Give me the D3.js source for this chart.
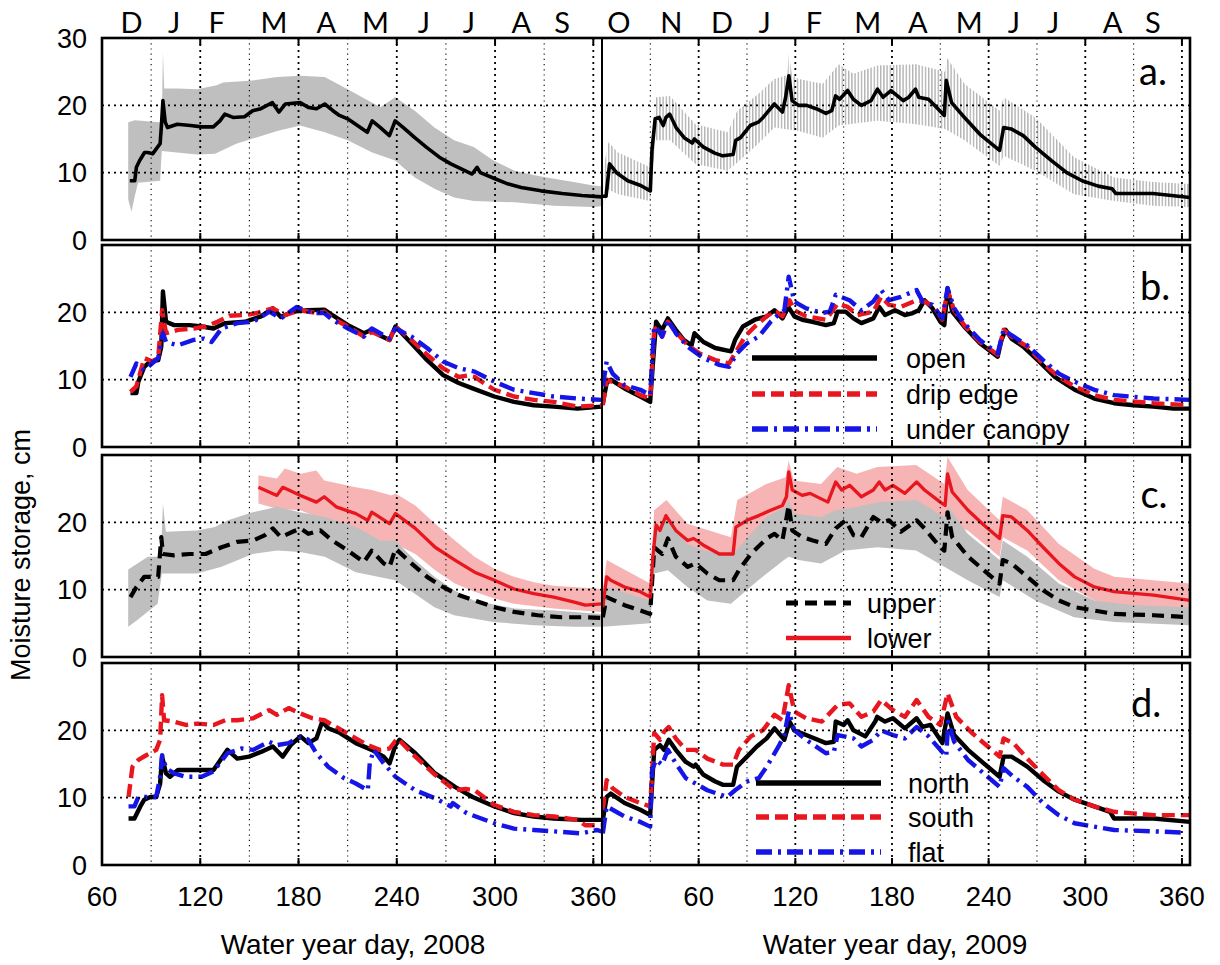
<!DOCTYPE html>
<html><head><meta charset="utf-8">
<script src="https://cdn.jsdelivr.net/npm/d3@7/dist/d3.min.js"></script>
<style>body{margin:0;background:#fff}svg{display:block}</style>
</head><body><svg id="c" width="1220" height="965"></svg>
<script>
// ---------- DATA (water year day, moisture storage cm) ----------
const monthsL = ["D","J","F","M","A","M","J","J","A","S"];
const monthsLDay = [78,104,130,165,197,227,256.6,284,316,341];
const monthsR = ["O","N","D","J","F","M","A","M","J","J","A","S"];
const monthsRDay = [10.5,43,74.5,101,131.6,165,196,228,255.6,280,317,342];
const ticksL = [60,120,180,240,300,360];
const ticksR = [60,120,180,240,300,360];
const panelLabels = ["a.","b.","c.","d."];

// panel a
const a08_open = [[77,8.8],[80,8.8],[81,10.8],[83,11.8],[86,13.0],[88,13.0],[91,12.8],[93,13.5],[95.5,14.3],[96.2,16.7],[97.2,20.7],[98.6,17.5],[100,16.7],[106,17.2],[114,17.0],[121,16.8],[128,16.8],[132,17.7],[135,18.7],[140,18.2],[147,18.3],[152,19.2],[157,19.5],[164,20.4],[168,19.0],[172,20.2],[181,20.4],[186,19.7],[191,19.5],[196,20.2],[201,19.2],[205,18.5],[210,18.0],[216,17.0],[222,16.0],[225,17.7],[230,16.7],[235.5,15.5],[239,17.7],[244,16.7],[251,15.2],[258,13.8],[266,12.3],[273,11.3],[280,10.5],[286,9.8],[289,10.8],[291,10.0],[300,9.1],[307,8.4],[316,7.8],[328,7.3],[341,6.9],[353,6.6],[365,6.4]];
const a08_hi = [[76,17.5],[80,17.8],[95,17.5],[96.5,17.5],[97.2,27.9],[98,22.5],[106,22.5],[118,22.4],[130,23.0],[134,23.4],[152,23.7],[167,24.2],[181,24.4],[196,24.2],[210,22.4],[230,19.7],[239,21.2],[251,19.2],[263,16.7],[275,14.8],[287,13.8],[299,11.8],[312,10.3],[324,9.6],[336,9.1],[348,8.6],[360,8.1],[365,8.0]];
const a08_lo = [[76,6.0],[78,4.2],[80,6.5],[82,8.5],[95.5,8.8],[96.5,13.2],[118,12.7],[129,12.8],[142,14.3],[167,16.2],[181,17.0],[196,16.0],[210,14.8],[225,13.0],[239,11.8],[251,9.3],[263,7.6],[275,6.3],[287,5.8],[312,5.6],[336,5.1],[360,4.9],[365,5.0]];
const a09_open = [[0,6.5],[2.5,6.5],[4.7,11.3],[9,10.0],[16,8.8],[24,8.1],[30,7.3],[31,13.3],[33,18.0],[35.5,18.2],[38,17.0],[39.7,18.2],[42,18.7],[46,16.7],[51,15.2],[56,14.4],[57.4,15.0],[63,13.8],[70,12.9],[75,12.5],[81.4,12.7],[83,14.8],[86,15.2],[92,17.0],[97,17.5],[100,18.2],[107,20.2],[112,19.0],[114,21.2],[116,24.4],[118,20.7],[122,20.0],[127,20.0],[133,19.5],[139,18.8],[142.6,19.2],[145,21.4],[147.5,20.9],[152.5,22.2],[156,20.9],[161,20.0],[167,20.7],[171,22.4],[174.5,21.2],[179.4,22.2],[187,20.7],[190.4,21.2],[194.6,22.4],[196.6,21.2],[202.7,20.9],[207.6,19.7],[212.5,18.5],[213.7,23.7],[217,20.4],[225,18.2],[234.6,15.7],[246.8,13.3],[249.3,16.7],[254,16.5],[261.5,15.5],[269,13.8],[279,11.8],[288.5,10.0],[298,8.8],[308,8.0],[316.7,7.6],[319,6.9],[342,6.9],[365,6.3]];
const a09_hi = [[0,9.5],[4,14.5],[10,13.0],[29.9,10.8],[31,14],[33.6,21.2],[42.2,21.4],[58,17.2],[78,16.0],[84,19.2],[97,21.7],[107,23.9],[115,24.5],[116,27.6],[118,24.5],[122,23.9],[137,23.2],[147,26.1],[156,24.7],[171,25.9],[195,26.1],[213,25.0],[214,27.1],[225,23.2],[246.8,19.2],[249.3,21.2],[269,18.2],[293,12.3],[318,9.3],[342,8.6],[365,8.3]];
const a09_lo = [[0,4.5],[4,7.5],[10,6.8],[29.9,5.8],[31,10],[33.6,14.8],[42.2,14.8],[58,11.3],[78,10.3],[84,11.5],[97,14.3],[107,16.7],[122,16.2],[137,15.2],[147,17.0],[171,17.7],[195,17.2],[213,16.5],[225,14.8],[246.8,11.0],[249.3,12.5],[269,10.3],[293,6.8],[318,5.8],[342,5.1],[365,4.9]];

// panel b
const b08_open = [[77.4,8.0],[81,8.0],[82.2,9.7],[85.8,11.9],[89.5,12.7],[94.3,12.9],[96.2,14.9],[97.2,23.1],[99.1,18.6],[104,18.1],[113.6,18.1],[120.9,17.9],[128.1,17.6],[135.3,18.4],[147.4,18.6],[157.1,19.4],[164.3,20.6],[169.2,19.3],[176.4,20.1],[186,20.3],[195.7,20.4],[200.6,19.6],[210.2,18.1],[219.9,16.9],[224.7,17.4],[229.5,16.6],[235.6,15.9],[239.2,17.9],[248.9,15.4],[258.5,12.9],[268.2,10.7],[277.8,9.5],[286.3,8.7],[299.6,7.5],[311.6,6.7],[323.7,6.2],[335.8,6.0],[350.3,5.7],[365,6.0]];
const b08_drip = [[77.4,8.2],[81,9.0],[85.8,13.2],[90.7,12.7],[94.3,13.2],[96.7,20.3],[99.1,16.9],[106.4,17.4],[116,17.6],[123.3,17.9],[130.5,18.6],[137.8,19.5],[147.4,19.6],[154.7,19.9],[164.3,20.6],[171.6,19.6],[181.2,20.3],[190.9,19.9],[195.7,20.1],[200.6,19.1],[210.2,17.9],[219.9,16.4],[224.7,17.1],[235.6,15.9],[239.2,17.9],[248.9,15.9],[258.5,13.7],[268.2,11.7],[277.8,10.4],[283,10.6],[287.5,10.4],[299.6,8.5],[311.6,7.5],[323.7,7.0],[335.8,6.7],[350.3,6.0],[365,6.2]];
const b08_canopy = [[77.4,10.4],[81,12.4],[85.8,11.4],[91.9,12.7],[94.3,13.2],[97.2,16.9],[99.1,15.6],[106.4,15.1],[116,15.9],[122.1,16.1],[126.9,15.6],[133,17.6],[142.6,18.4],[152.3,18.6],[162.2,20.1],[169.2,19.1],[178.8,20.8],[188.5,19.9],[195.7,19.9],[200.6,18.9],[210.2,17.6],[219.9,16.4],[224.7,17.6],[235.6,16.1],[239.2,17.6],[248.9,16.4],[258.5,14.7],[268.2,12.7],[277.8,11.7],[287.5,11.2],[299.6,9.7],[311.6,8.5],[323.7,8.0],[335.8,7.5],[350.3,7.2],[365,7.0]];
const b09_open = [[0.5,6.5],[2.9,9.5],[5.4,10.0],[14,8.7],[23.8,7.5],[29.9,6.7],[31.6,12.4],[33.6,18.6],[35.5,17.9],[37.3,17.4],[40.9,19.1],[45.8,17.4],[50.7,15.9],[55.6,15.1],[57.4,16.9],[63,15.6],[70.3,14.7],[80.1,14.2],[82.6,15.9],[87.5,17.9],[94.9,18.9],[102.2,19.4],[107.1,20.3],[112,19.1],[115.7,20.8],[119.4,19.4],[124.3,18.9],[130.6,18.6],[139,18.1],[143.9,18.4],[146.3,20.1],[151.2,20.1],[156.1,19.1],[161,18.4],[168.4,19.1],[172.1,20.8],[175.7,19.6],[181.9,20.3],[188,19.6],[192.9,19.9],[196.6,20.3],[200.2,21.8],[205.1,20.6],[210,18.6],[212.5,18.1],[214.5,23.6],[217.4,20.1],[224.8,17.9],[234.6,15.4],[245.6,13.4],[248,15.9],[250.5,17.4],[254.2,16.1],[261.5,14.9],[271.3,12.7],[281.1,10.4],[293.4,8.5],[305.6,7.2],[317.9,6.5],[330.1,6.2],[342.4,6.0],[354.7,5.7],[365,5.7]];
const b09_drip = [[0.5,6.2],[2.9,10.0],[14,9.0],[23.8,7.7],[29.9,7.2],[32.4,17.4],[34.8,17.9],[37.3,16.4],[40.9,18.6],[45.8,17.1],[53.2,15.1],[60.5,13.9],[70.3,12.9],[78.9,12.4],[83.8,14.4],[88.7,16.4],[94.9,17.9],[102.2,19.4],[107.1,20.3],[112,19.4],[116.4,21.8],[119.4,20.3],[126.7,19.4],[139,18.9],[146.3,21.3],[152.5,20.8],[158.6,19.6],[168.4,20.1],[173.3,22.3],[178.2,21.1],[185.5,20.8],[195.3,21.8],[200.2,21.6],[206.4,20.8],[211.3,18.9],[214.5,23.3],[218.6,20.3],[224.8,18.1],[234.6,15.6],[245.6,13.7],[249.3,17.4],[254.2,16.4],[264,14.9],[273.8,12.4],[283.6,10.4],[293.4,9.0],[305.6,7.7],[317.9,7.0],[342.4,6.5],[365,6.2]];
const b09_canopy = [[0.5,9.0],[2.9,12.7],[6.6,10.9],[14,9.2],[23.8,8.5],[29.9,7.7],[32.4,17.9],[34.8,17.4],[37.3,16.4],[40.9,18.9],[45.8,16.9],[53.2,14.9],[63,13.2],[72.8,12.2],[78.9,11.9],[83.8,13.9],[90,15.4],[97.3,16.4],[104.7,18.6],[110.8,19.9],[113.2,20.3],[115.9,25.3],[119.4,21.6],[126.7,20.6],[136.5,19.9],[141.4,20.1],[145.1,22.6],[153.7,21.8],[161,20.3],[168.4,21.6],[173.3,23.3],[178.2,21.8],[185.5,22.3],[195.3,23.3],[199,21.6],[205.1,21.1],[211.3,19.1],[214.5,23.6],[218.6,20.6],[224.8,18.4],[234.6,15.9],[245.6,13.9],[249.3,17.4],[254.2,16.6],[264,15.1],[273.8,12.9],[283.6,10.9],[293.4,9.7],[305.6,8.5],[317.9,7.7],[342.4,7.2],[365,7.0]];

// panel c
const c08_upper = [[77.4,8.9],[81,10.4],[85.8,11.9],[94.3,11.9],[96.2,17.8],[97.2,15.3],[104,15.1],[113.6,15.3],[123.3,15.3],[133,16.3],[142.6,17.1],[152.3,17.3],[159.5,18.1],[164.3,19.1],[169.2,17.8],[176.4,18.6],[181.2,19.1],[186,18.3],[193.3,18.8],[200.6,17.3],[210.2,15.8],[219.9,14.1],[224.7,15.8],[232,13.9],[235.6,13.4],[239.2,16.1],[248.9,13.9],[258.5,11.9],[268.2,10.4],[277.8,9.2],[287.5,8.4],[299.6,7.4],[311.6,6.7],[326.1,6.2],[340.6,5.9],[355.1,5.9],[365,5.8]];
const c08_upper_hi = [[76,13.0],[88,14.9],[96,14.9],[97.2,22.8],[99,18.6],[118,18.8],[129,19.3],[137,20.3],[152,21.5],[167,22.3],[181,21.5],[196,20.8],[215,19.3],[230,17.3],[239,17.3],[251,14.4],[263,11.9],[275,9.9],[287,8.4],[312,7.2],[336,6.9],[365,6.4]];
const c08_upper_lo = [[76,4.5],[81,5.4],[94,7.9],[96.5,12.4],[118,12.4],[133,13.4],[152,15.3],[167,15.8],[181,15.6],[196,14.9],[215,12.6],[239,11.4],[251,9.4],[263,7.4],[275,6.2],[299,5.2],[324,4.7],[348,4.5],[365,4.5]];
const c08_lower = [[155.5,25.2],[162,24.5],[166.8,24.0],[170.4,25.2],[181.2,24.0],[190.9,23.0],[195.7,23.8],[203,22.3],[215,21.3],[222.3,20.3],[224.7,21.5],[235.6,19.8],[239.2,21.3],[251.3,19.1],[263.4,16.3],[275.5,14.4],[287.5,12.6],[299.6,11.4],[311.6,10.1],[323.7,9.4],[335.8,8.9],[347.8,8.2],[355.1,7.7],[365,7.9]];
const c08_lower_hi = [[155.5,27.0],[166.8,26.5],[171.6,28.0],[181.2,27.2],[190.9,27.7],[195.7,26.2],[215,25.2],[224.7,24.8],[236.8,24.0],[239.2,24.3],[251.3,22.5],[263.4,19.8],[275.5,17.3],[287.5,14.9],[299.6,13.1],[311.6,11.9],[323.7,11.1],[335.8,10.6],[347.8,10.4],[365,10.1]];
const c08_lower_lo = [[155.5,22.8],[166.8,22.0],[181.2,21.8],[195.7,20.3],[215,18.8],[229.5,17.3],[239.2,16.8],[251.3,15.3],[263.4,12.9],[275.5,10.9],[287.5,9.7],[299.6,8.7],[311.6,7.9],[335.8,7.2],[365,6.7]];
const c09_upper = [[0.5,5.9],[2.9,8.9],[14,7.7],[23.8,6.9],[29.9,6.4],[32.4,16.3],[34.8,15.8],[37.3,15.3],[40.9,17.6],[45.8,14.9],[53.2,13.4],[58.1,13.9],[65.4,12.4],[72.8,11.4],[81.4,11.4],[85,12.9],[92.4,15.3],[102.2,17.6],[107.1,18.3],[112,17.3],[115.9,22.5],[118.1,18.8],[124.3,17.8],[130.9,17.3],[139,16.8],[145.1,19.1],[151.2,20.3],[156.1,18.1],[161,17.8],[168.4,20.8],[173.3,20.0],[178.2,20.3],[185.5,18.6],[195.3,20.3],[200.2,19.1],[210,16.3],[212.5,15.8],[214.5,21.5],[217.4,17.8],[227.2,14.9],[237,12.9],[246.8,10.9],[248.8,14.4],[254.2,13.9],[264,11.9],[273.8,9.9],[283.6,8.4],[293.4,7.4],[305.6,6.9],[317.9,6.4],[342.4,6.2],[365,5.9]];
const c09_upper_hi = [[0.5,9.4],[2.9,10.4],[29.9,8.4],[32.4,18.8],[40,20.3],[53,16.8],[63,15.8],[81,15.3],[85,16.3],[102,20.8],[114,22.3],[115.9,23.3],[119,21.3],[136,20.8],[145,21.8],[159,22.3],[171,23.0],[195,23.3],[212.5,20.8],[215,22.3],[227,18.3],[246.8,14.4],[248.8,17.3],[264,14.9],[283.6,10.9],[305.6,8.4],[330,7.7],[365,7.4]];
const c09_upper_lo = [[0.5,4.5],[29.9,5.0],[32.4,12.4],[40.9,12.9],[53,10.4],[65.4,8.4],[80,7.9],[97,11.4],[113,14.4],[115.9,14.9],[122,14.4],[136,13.9],[151,15.8],[171,16.3],[195,15.8],[212.5,13.4],[227,11.4],[246.8,8.9],[248.8,11.4],[269,8.4],[293,5.9],[318,5.2],[365,4.7]];
const c09_lower = [[0.5,7.4],[2.9,11.9],[5.4,11.4],[14,10.4],[23.8,9.7],[29.9,8.9],[31.6,14.9],[33.6,19.6],[36,18.8],[39.7,21.0],[45.8,18.8],[53.2,17.3],[56.9,17.6],[63,16.6],[72.8,15.3],[81.4,15.3],[83.1,19.3],[90,20.3],[97.3,21.0],[104.7,21.8],[112,22.5],[114.5,23.8],[115.9,27.5],[118.1,24.8],[124.3,24.0],[129.2,24.3],[140.2,23.0],[145.1,26.0],[148.8,24.8],[153.7,25.5],[161,23.8],[168.4,24.8],[172.1,26.0],[175.7,24.8],[180.6,25.5],[188,24.3],[195.3,26.0],[200.2,24.8],[210,23.0],[213,22.5],[214.5,27.2],[217.4,24.5],[227.2,21.8],[237,19.6],[246.8,17.6],[248.8,21.0],[254.2,20.8],[264,18.8],[273.8,16.3],[283.6,13.9],[293.4,11.9],[305.6,10.4],[317.9,9.7],[342.4,9.2],[365,8.4]];
const c09_lower_hi = [[0.5,9.9],[2.9,14.4],[29.9,10.9],[32.4,21.8],[40,23.3],[53,19.8],[80,17.8],[84,23.3],[102,25.7],[114,26.7],[115.9,29.2],[119,26.2],[136,25.7],[146,28.2],[158,27.2],[171,28.2],[195,28.5],[212.5,25.7],[214.5,29.7],[227,24.8],[246.8,20.3],[248.8,23.8],[264,21.8],[283.6,16.8],[305.6,13.1],[318,11.9],[365,10.9]];
const c09_lower_lo = [[0.5,5.4],[2.9,9.4],[29.9,7.4],[32.4,17.3],[53,15.3],[80,13.9],[84,15.8],[102,18.3],[114,19.3],[136,20.3],[171,21.8],[195,22.3],[212.5,20.1],[227,18.8],[246.8,14.9],[248.8,17.8],[264,15.8],[283.6,11.4],[305.6,8.4],[330,7.4],[365,6.4]];

// panel d
const d08_north = [[76.2,6.9],[79.8,6.9],[83.4,8.7],[85.8,9.7],[89.5,10.1],[93.1,10.1],[95.5,12.1],[96.7,16.1],[99.1,13.6],[101.5,13.1],[106.4,14.1],[118.4,14.1],[128.1,14.1],[136.6,17.1],[142.6,15.8],[149.8,16.1],[157.1,16.8],[164.3,17.6],[170.4,16.1],[175.2,17.8],[181.2,19.1],[186,18.1],[190.9,18.8],[194.5,21.3],[198.1,20.3],[205.4,19.6],[215,18.1],[224.7,17.1],[232,16.1],[235.6,15.1],[239.2,17.8],[241.6,18.6],[251.3,16.6],[263.4,13.6],[275.5,11.6],[286.3,10.1],[299.6,8.7],[311.6,7.7],[323.7,7.2],[335.8,6.9],[352.7,6.7],[365,6.7]];
const d08_south = [[76.2,10.1],[78.6,14.6],[82.2,15.6],[87,16.3],[93.1,17.1],[95.5,18.6],[96.7,25.2],[97.9,21.5],[104,21.3],[111.2,20.8],[118.4,21.0],[128.1,20.8],[135.3,21.5],[142.6,21.5],[152.3,21.8],[162,23.0],[166.8,22.3],[174,23.3],[181.2,22.5],[188.5,21.8],[195.7,21.5],[202.9,20.5],[215,18.8],[222.3,17.8],[229.5,17.1],[235.6,17.3],[240.4,18.8],[251.3,16.1],[263.4,13.4],[275.5,11.1],[282,11.3],[287.5,11.1],[299.6,8.9],[311.6,7.9],[323.7,7.4],[335.8,7.2],[350.3,6.7],[355.1,5.9],[365,5.9]];
const d08_flat = [[76.2,8.7],[79.8,8.7],[82.2,10.1],[93.1,10.1],[95.5,13.1],[96.7,16.3],[99.1,14.4],[104,13.6],[111.2,13.1],[120.9,13.1],[128.1,13.9],[136.6,16.6],[145,17.3],[152.3,17.1],[162,18.3],[166.8,17.8],[174,18.1],[181.2,19.1],[186,18.6],[190.9,16.6],[198.1,14.6],[207.8,12.9],[215,12.1],[222.3,11.1],[223.5,15.1],[225.9,17.1],[232,15.1],[239.2,13.1],[251.3,11.1],[263.4,9.9],[273,8.7],[274.2,9.2],[282.7,7.7],[299.6,6.2],[311.6,5.4],[323.7,5.2],[335.8,5.0],[352.7,4.7],[362.4,5.2],[365,5.0]];
const d09_north = [[0.5,6.7],[2.9,10.1],[5.4,10.6],[14,9.2],[23.8,8.2],[29.9,7.4],[32.4,17.1],[36,17.8],[38.5,17.1],[41.4,18.6],[45.8,17.1],[52,15.3],[56.9,14.6],[58.1,14.9],[63,13.4],[70.3,12.4],[75.2,11.9],[81.4,11.9],[83.8,14.6],[90,16.1],[96.1,17.6],[102.2,18.8],[107.1,20.3],[113.2,18.6],[116.4,21.3],[119.4,20.0],[126.7,19.3],[139,18.1],[143.9,18.3],[145.1,21.3],[150,20.8],[152.5,21.5],[156.1,20.0],[163.5,19.1],[169.6,21.3],[170.8,22.0],[175.7,21.3],[180.6,21.8],[188,20.3],[195.3,21.8],[199,20.5],[203.9,20.8],[211.3,18.1],[214.5,22.5],[218.6,19.3],[227.2,17.1],[237,15.1],[246.8,13.1],[249.3,16.1],[254.2,16.1],[264,14.6],[273.8,12.6],[283.6,10.9],[293.4,9.7],[305.6,8.7],[315.4,7.9],[317.9,6.9],[342.4,6.9],[365,6.4]];
const d09_south = [[0.5,8.2],[2.9,12.6],[6.6,11.4],[14,10.1],[23.8,9.2],[29.9,8.7],[32.4,19.6],[36,18.6],[38.5,19.8],[41.4,20.5],[45.8,18.8],[52,17.1],[58.1,17.1],[65.4,15.8],[75.2,14.9],[81.4,14.9],[85,17.1],[92.4,19.1],[99.8,20.0],[107.1,22.3],[112,21.5],[115.9,26.7],[119.4,22.8],[126.7,21.8],[136.5,21.3],[146.3,23.8],[153.7,24.0],[161,22.0],[168.4,22.8],[173.3,24.5],[180.6,23.0],[188,22.0],[195.3,24.5],[202.7,22.0],[210,20.8],[214.5,25.5],[219.9,22.0],[229.7,19.6],[239.5,17.6],[246.8,16.1],[249.3,18.8],[255.4,18.1],[264,15.8],[273.8,13.4],[283.6,11.1],[293.4,9.7],[305.6,8.7],[317.9,7.9],[342.4,7.4],[365,7.4]];
const d09_flat = [[0.5,4.7],[2.9,8.7],[6.6,8.2],[14,7.2],[23.8,6.4],[29.9,5.7],[31.1,14.1],[33.6,15.6],[37.3,14.9],[40.9,17.1],[45.8,15.1],[52,12.9],[58.1,12.1],[65.4,11.1],[77.7,10.1],[82.6,11.1],[90,12.4],[97.3,12.9],[102.2,14.6],[109.6,17.6],[113.2,19.3],[115.9,22.8],[119.4,20.0],[126.7,18.6],[139,16.6],[143.9,16.8],[146.3,19.3],[156.1,18.8],[161,17.6],[168.4,18.6],[173.3,20.0],[180.6,19.3],[188,18.8],[195.3,20.5],[202.7,19.1],[210,17.1],[213.7,16.1],[214.9,21.3],[218.6,18.3],[227.2,15.6],[237,13.6],[246.8,11.6],[249.3,14.4],[255.4,13.1],[264,11.6],[273.8,9.2],[283.6,7.4],[293.4,6.2],[305.6,5.7],[317.9,5.2],[342.4,5.0],[362,4.8]];

// ---------- DRAWING ----------
const RED = "#e8161e", BLUE = "#1515e8", GRAY = "#bfbfbf", PINK = "#f6b4b4";
const svg = d3.select("#c");
const xL = d3.scaleLinear().domain([60,365]).range([102,601.5]);
const xR = d3.scaleLinear().domain([0,365]).range([602,1190]);
const panels = [{t:38,b:240},{t:245,b:447},{t:455,b:657},{t:663,b:865}];
const defs = svg.append("defs");
const pat = defs.append("pattern").attr("id","hatch").attr("patternUnits","userSpaceOnUse")
  .attr("width",3.2).attr("height",10);
pat.append("rect").attr("x",0).attr("y",0).attr("width",1.4).attr("height",10).attr("fill","#b3b3b3");

const styles = {
  black:{stroke:"#000",w:4.4,dash:null},
  blackThin:{stroke:"#000",w:3.6,dash:null},
  red:{stroke:RED,w:4.4,dash:"13,6"},
  blue:{stroke:BLUE,w:4.4,dash:"16,6,3,6"},
  redSolid:{stroke:RED,w:3.3,dash:null},
  blackDash:{stroke:"#000",w:4.2,dash:"12,7"}
};
const numFont = "Liberation Sans, Arial, sans-serif";

panels.forEach((p,i)=>{
  const y = d3.scaleLinear().domain([0,30]).range([p.b,p.t]);
  p.y = y;
  const g = svg.append("g");
  p.g = g;
  [["L",xL],["R",xR]].forEach(([k,x])=>{
    const cid = "clip"+i+k;
    defs.append("clipPath").attr("id",cid).append("rect")
      .attr("x",x.range()[0]).attr("y",p.t).attr("width",x.range()[1]-x.range()[0]).attr("height",p.b-p.t);
    p["g"+k] = g.append("g").attr("clip-path",`url(#${cid})`);
  });
  const gridDaysL = d3.range(90,361,30), gridDaysR = d3.range(30,361,30);
  [[gridDaysL,xL],[gridDaysR,xR]].forEach(([days,x])=>{
    days.forEach(d=>{
      const major = d%60===0;
      g.append("line").attr("x1",x(d)).attr("x2",x(d)).attr("y1",p.t).attr("y2",p.b)
        .attr("stroke","#000").attr("stroke-width",major?1.8:1.1)
        .attr("stroke-dasharray",major?"2,4":"1.2,4");
      if(major){
        g.append("line").attr("x1",x(d)).attr("x2",x(d)).attr("y1",p.b).attr("y2",p.b-7).attr("stroke","#000").attr("stroke-width",2);
        g.append("line").attr("x1",x(d)).attr("x2",x(d)).attr("y1",p.t).attr("y2",p.t+7).attr("stroke","#000").attr("stroke-width",2);
      }
    });
  });
  [10,20].forEach(v=>{
    g.append("line").attr("x1",102).attr("x2",1190).attr("y1",y(v)).attr("y2",y(v))
      .attr("stroke","#000").attr("stroke-width",1.6).attr("stroke-dasharray","2,4");
  });
  const yt = i===0?[0,10,20,30]:[0,10,20];
  yt.forEach(v=>{
    svg.append("text").attr("x",87).attr("y",y(v)).attr("dy","0.36em").attr("text-anchor","end")
      .attr("font-family",numFont).attr("font-size",27).text(v);
  });
});

function lineFor(x,y){ return d3.line().x(d=>x(d[0])).y(d=>y(d[1])); }
function drawLine(gr,x,y,data,st){
  gr.append("path").attr("d",lineFor(x,y)(data)).attr("fill","none")
    .attr("stroke",st.stroke).attr("stroke-width",st.w).attr("stroke-linejoin","round")
    .attr("stroke-dasharray",st.dash);
}
function drawBand(gr,x,y,hi,lo,fill){
  const pts = hi.concat(lo.slice().reverse());
  gr.append("path").attr("d",lineFor(x,y)(pts)+"Z").attr("fill",fill).attr("stroke","none");
}

const P0=panels[0];
drawBand(P0.gL,xL,P0.y,a08_hi,a08_lo,GRAY);
drawLine(P0.gL,xL,P0.y,a08_open,styles.blackThin);
drawBand(P0.gR,xR,P0.y,a09_hi,a09_lo,"url(#hatch)");
drawLine(P0.gR,xR,P0.y,a09_open,styles.blackThin);
const P1=panels[1];
[[P1.gL,xL,b08_open,b08_drip,b08_canopy],[P1.gR,xR,b09_open,b09_drip,b09_canopy]].forEach(([gr,x,o,dr,ca])=>{
  drawLine(gr,x,P1.y,o,styles.black);
  drawLine(gr,x,P1.y,dr,styles.red);
  drawLine(gr,x,P1.y,ca,styles.blue);
});
const P2=panels[2];
drawBand(P2.gL,xL,P2.y,c08_lower_hi,c08_lower_lo,PINK);
drawBand(P2.gL,xL,P2.y,c08_upper_hi,c08_upper_lo,GRAY);
drawLine(P2.gL,xL,P2.y,c08_upper,styles.blackDash);
drawLine(P2.gL,xL,P2.y,c08_lower,styles.redSolid);
drawBand(P2.gR,xR,P2.y,c09_lower_hi,c09_lower_lo,PINK);
drawBand(P2.gR,xR,P2.y,c09_upper_hi,c09_upper_lo,GRAY);
drawLine(P2.gR,xR,P2.y,c09_upper,styles.blackDash);
drawLine(P2.gR,xR,P2.y,c09_lower,styles.redSolid);
const P3=panels[3];
[[P3.gL,xL,d08_north,d08_south,d08_flat],[P3.gR,xR,d09_north,d09_south,d09_flat]].forEach(([gr,x,n,s,f])=>{
  drawLine(gr,x,P3.y,n,styles.black);
  drawLine(gr,x,P3.y,s,styles.red);
  drawLine(gr,x,P3.y,f,styles.blue);
});

panels.forEach(p=>{
  svg.append("rect").attr("x",102).attr("y",p.t).attr("width",1088).attr("height",p.b-p.t)
    .attr("fill","none").attr("stroke","#000").attr("stroke-width",2.6);
  svg.append("line").attr("x1",602).attr("x2",602).attr("y1",p.t).attr("y2",p.b)
    .attr("stroke","#000").attr("stroke-width",2);
});

function legend(x1,x2,tx,rows){
  rows.forEach(([yy,label,st])=>{
    svg.append("line").attr("x1",x1).attr("x2",x2).attr("y1",yy).attr("y2",yy)
      .attr("stroke",st.stroke).attr("stroke-width",st.w+1).attr("stroke-dasharray",st.dash);
    svg.append("text").attr("x",tx).attr("y",yy+10).attr("font-family",numFont).attr("font-size",27).text(label);
  });
}
legend(752,877,906,[[358,"open",styles.black],[394,"drip edge",styles.red],[429,"under canopy",styles.blue]]);
legend(786,851,867,[[603,"upper",styles.blackDash],[638,"lower",styles.redSolid]]);
legend(756,881,908,[[783,"north",styles.black],[817,"south",styles.red],[852,"flat",styles.blue]]);

const letterPos = [[1153,85],[1155,300],[1154,508],[1146,717]];
panelLabels.forEach((t,i)=>{
  svg.append("text").attr("x",letterPos[i][0]).attr("y",letterPos[i][1]).attr("text-anchor","middle")
    .attr("font-family","Lato, 'Open Sans', sans-serif").attr("font-size",38).text(t);
});

monthsL.forEach((m,i)=>svg.append("text").attr("x",xL(monthsLDay[i])).attr("y",33).attr("text-anchor","middle")
  .attr("font-family","Lato, sans-serif").attr("font-size",29).text(m));
monthsR.forEach((m,i)=>svg.append("text").attr("x",xR(monthsRDay[i])).attr("y",33).attr("text-anchor","middle")
  .attr("font-family","Lato, sans-serif").attr("font-size",29).text(m));

ticksL.forEach(d=>svg.append("text").attr("x",xL(d)).attr("y",906).attr("text-anchor","middle")
  .attr("font-family",numFont).attr("font-size",27.5).text(d));
ticksR.forEach(d=>svg.append("text").attr("x",xR(d)).attr("y",906).attr("text-anchor","middle")
  .attr("font-family",numFont).attr("font-size",27.5).text(d));

svg.append("text").attr("x",353).attr("y",954).attr("text-anchor","middle").attr("font-family",numFont)
  .attr("font-size",28).text("Water year day, 2008");
svg.append("text").attr("x",895).attr("y",954).attr("text-anchor","middle").attr("font-family",numFont)
  .attr("font-size",28).text("Water year day, 2009");
svg.append("text").attr("transform","translate(30,555) rotate(-90)").attr("text-anchor","middle")
  .attr("font-family",numFont).attr("font-size",27).text("Moisture storage, cm");
</script></body></html>
